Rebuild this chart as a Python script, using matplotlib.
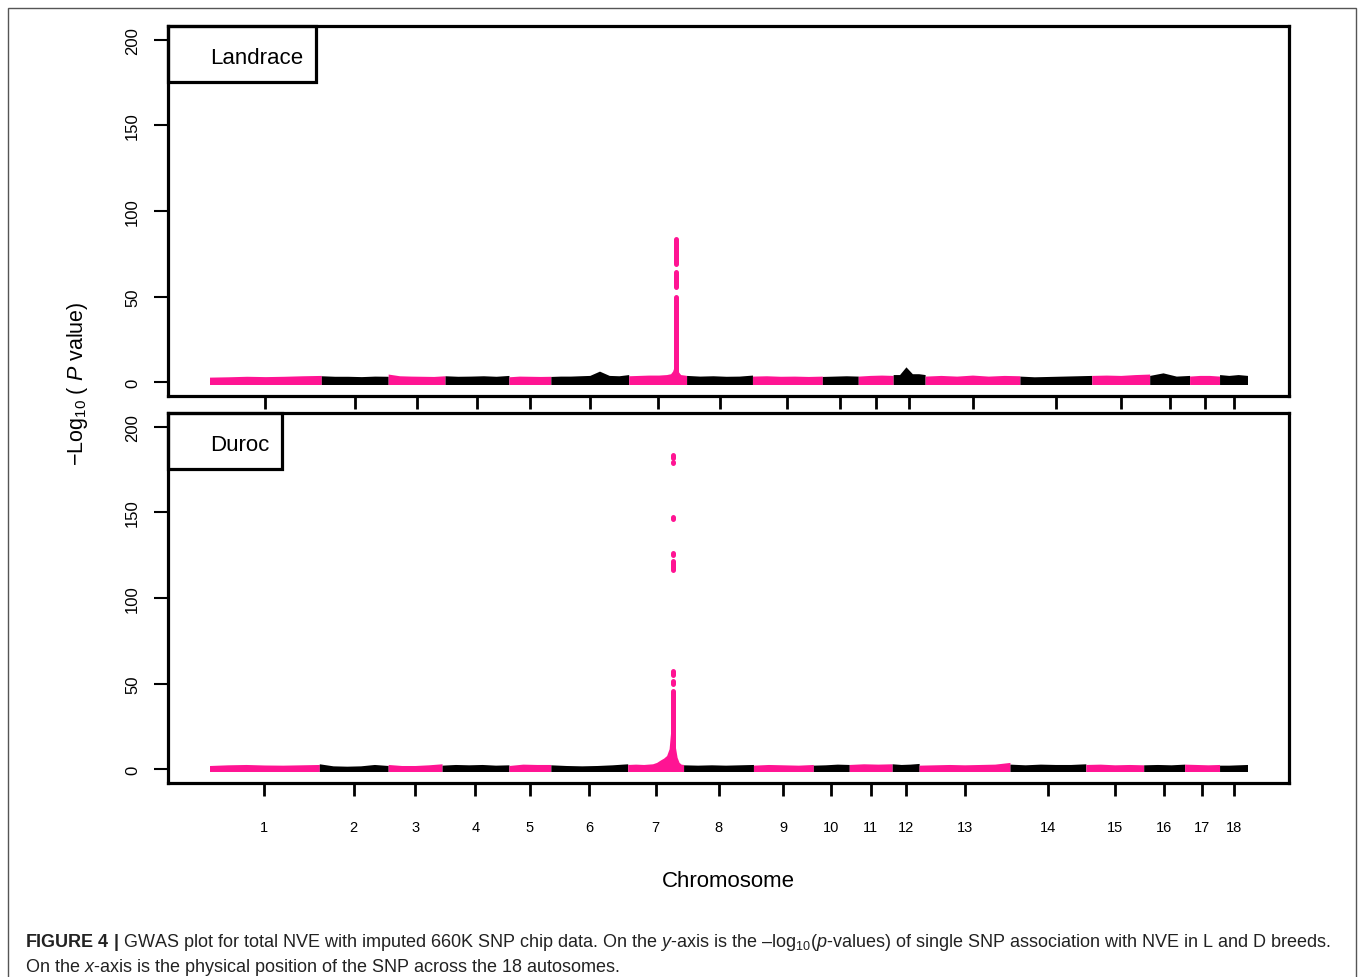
import numpy as np
import matplotlib.pyplot as plt
from matplotlib.patches import Rectangle

plt.rcParams['font.family'] = ['Liberation Sans', 'DejaVu Sans']
plt.rcParams['mathtext.fontset'] = 'custom'
plt.rcParams['mathtext.rm'] = 'Liberation Sans'
plt.rcParams['mathtext.it'] = 'Liberation Sans:italic'
plt.rcParams['mathtext.bf'] = 'Liberation Sans:bold'

PINK = '#FF1493'

chroms = [str(i) for i in range(1, 19)]

# span of each chromosome along the x-axis (relative units)
len_landrace = [112, 67, 57, 64, 42, 78, 58, 66, 70, 36, 35, 32, 95, 72, 58, 40, 30, 28]
len_duroc = [110, 69, 54, 67, 42, 77, 56, 70, 60, 36, 43, 27, 91, 76, 58, 41, 35, 28]

# top of the dense band of SNPs, sampled along each chromosome (-log10 p)
band_landrace = [
    [3.0, 3.2, 3.5, 3.3, 3.5, 3.8, 4.0],
    [3.8, 3.5, 3.5, 3.3, 3.6, 3.5],
    [4.8, 3.8, 3.6, 3.5, 3.4, 3.8],
    [3.8, 3.5, 3.6, 3.8, 3.5, 4.0],
    [3.2, 3.6, 3.5, 3.4, 3.5],
    [3.4, 3.6, 3.6, 3.8, 4.0, 6.5, 4.0, 3.8, 4.5],
    None,
    [4.0, 3.6, 3.8, 3.5, 3.6, 4.2],
    [3.6, 3.8, 3.5, 3.6, 3.4, 3.6],
    [3.4, 3.6, 3.8, 3.6],
    [3.6, 4.0, 4.2, 4.0],
    [4.5, 4.5, 9.0, 5.0, 5.0, 4.5],
    [3.6, 4.0, 3.6, 4.2, 3.6, 4.0, 3.8],
    [3.6, 3.2, 3.4, 3.6, 3.8, 4.0],
    [4.0, 4.2, 4.0, 4.5, 4.8],
    [4.0, 5.5, 3.6, 4.0],
    [3.6, 4.0, 4.0, 3.6],
    [4.5, 4.0, 4.5, 4.0],
]
band_duroc = [
    [2.2, 2.6, 2.8, 2.5, 2.4, 2.6, 2.8],
    [3.2, 2.0, 1.8, 2.0, 2.8, 2.2],
    [2.8, 2.2, 2.2, 2.6, 3.2],
    [2.4, 2.8, 2.6, 2.8, 2.4, 2.6],
    [2.2, 3.0, 2.8, 2.8],
    [2.6, 2.2, 2.0, 2.2, 2.6, 3.2],
    None,
    [2.6, 2.4, 2.6, 2.4, 2.6, 2.8],
    [2.4, 2.8, 2.6, 2.4, 2.8],
    [2.4, 2.6, 3.0, 2.8],
    [2.8, 3.2, 3.0, 3.2],
    [3.2, 2.8, 3.0, 3.4],
    [2.4, 2.6, 2.8, 2.6, 2.8, 3.0, 4.0],
    [3.0, 2.6, 3.0, 2.8, 2.8, 3.2],
    [2.8, 3.0, 2.6, 2.8, 2.6],
    [2.6, 2.8, 2.6, 3.0],
    [3.0, 2.8, 2.6, 2.8],
    [2.4, 2.4, 2.6, 2.8],
]

# chromosome 7 around the QTL: position within chr7 and band top
chr7_pos_landrace = [0, 10, 20, 30, 38, 42, 44, 45.5, 47, 48.5, 50, 52, 56, 58]
chr7_top_landrace = [3.8, 4.0, 4.2, 4.2, 4.5, 5.0, 6.5, 9.0, 10.0, 8.5, 6.0, 4.5, 4.2, 4.0]
chr7_pos_duroc = [0, 8, 16, 25, 29, 33, 36, 39, 41.5, 43.5, 45.5, 47.5, 49.5, 51.5, 53.5, 56]
chr7_top_duroc = [2.8, 3.0, 2.8, 3.2, 4.0, 5.5, 6.5, 8.0, 12, 25, 30, 14, 7.0, 4.0, 3.0, 2.8]

# significant SNPs stacked at the peak position: runs (low, high) of -log10 p
peak_pos_landrace = 47
peak_runs_landrace = [(0, 49.7), (55.8, 64.2), (68.8, 83.7)]
peak_pos_duroc = 45.5
peak_runs_duroc = [(0, 45.5), (50.0, 51.3), (55.1, 57.2), (110.5, 110.6),
                   (116.3, 121.5), (125.3, 126.4), (145.9, 147.2),
                   (179.0, 179.2), (181.5, 183.5)]


def manhattan(ax, lengths, bands, pos7, top7, peak_pos, peak_runs):
    starts = np.concatenate([[0], np.cumsum(lengths)[:-1]])
    for i, (s, L) in enumerate(zip(starts, lengths)):
        col = PINK if i % 2 == 0 else 'black'
        if bands[i] is None:
            x = s + np.array(pos7)
            y = np.array(top7)
        else:
            y = np.array(bands[i])
            x = s + np.linspace(0, L, len(y))
        ax.fill_between(x, -1.3, y, color=col, lw=0)
    xp = starts[6] + peak_pos
    for lo, hi in peak_runs:
        ax.plot([xp, xp], [lo, hi], color=PINK, lw=3.6, solid_capstyle='round')
    total = sum(lengths)
    ax.set_xlim(-0.04 * total, 1.04 * total)
    ax.set_ylim(-8, 208)
    ax.set_yticks([0, 50, 100, 150, 200])
    ax.set_xticks(starts + np.array(lengths) / 2)
    for sp in ax.spines.values():
        sp.set_linewidth(2.3)
    ax.tick_params(axis='y', direction='out', length=10, width=1.5, pad=10,
                   labelsize=12)
    ax.tick_params(axis='x', direction='out', length=9, width=2, pad=18,
                   labelsize=10.5)
    for lab in ax.get_yticklabels():
        lab.set_rotation(90)
        lab.set_va('center')


def breed_box(ax, name, w):
    h = 56 / 370
    ax.add_patch(Rectangle((0, 1 - h), w, h, transform=ax.transAxes,
                           fill=False, lw=2.3, clip_on=False, zorder=5))
    ax.text(42 / 1121, 1 - 31.5 / 370, name, transform=ax.transAxes,
            fontsize=16, ha='left', va='center')


fig = plt.figure(figsize=(13.58, 9.78), dpi=100)
ax1 = fig.add_axes([0.1237, 0.5941, 0.8255, 0.3783])
ax2 = fig.add_axes([0.1237, 0.1984, 0.8255, 0.3783])

manhattan(ax1, len_landrace, band_landrace, chr7_pos_landrace, chr7_top_landrace,
          peak_pos_landrace, peak_runs_landrace)
ax1.set_xticklabels([])
breed_box(ax1, 'Landrace', 148 / 1121)

manhattan(ax2, len_duroc, band_duroc, chr7_pos_duroc, chr7_top_duroc,
          peak_pos_duroc, peak_runs_duroc)
ax2.set_xticklabels(chroms)
breed_box(ax2, 'Duroc', 114 / 1121)

fig.text(0.5365, 0.0982, 'Chromosome', fontsize=16, ha='center', va='center')
fig.text(0.0574, 0.6074, r'$-$Log$_{10}$ ( $\mathit{P}$ value)', fontsize=15.5,
         rotation=90, ha='center', va='center')

fig.add_artist(Rectangle((8 / 1358, -0.05), 1348 / 1358, 1.05 - 9 / 978,
                         transform=fig.transFigure, fill=False, lw=1,
                         edgecolor='#555555'))

fig.text(25 / 1358, 1 - 947 / 978,
         r'$\mathbf{FIGURE\ 4\ |}$ GWAS plot for total NVE with imputed 660K SNP chip data. '
         r'On the $\mathit{y}$-axis is the –log$_{10}$($\mathit{p}$-values) of single SNP '
         r'association with NVE in L and D breeds.',
         fontsize=13.0, color='#222222', ha='left', va='baseline')
fig.text(25 / 1358, 1 - 972 / 978,
         r'On the $\mathit{x}$-axis is the physical position of the SNP across the 18 autosomes.',
         fontsize=13.0, color='#222222', ha='left', va='baseline')

plt.savefig('out.png', dpi=100)
